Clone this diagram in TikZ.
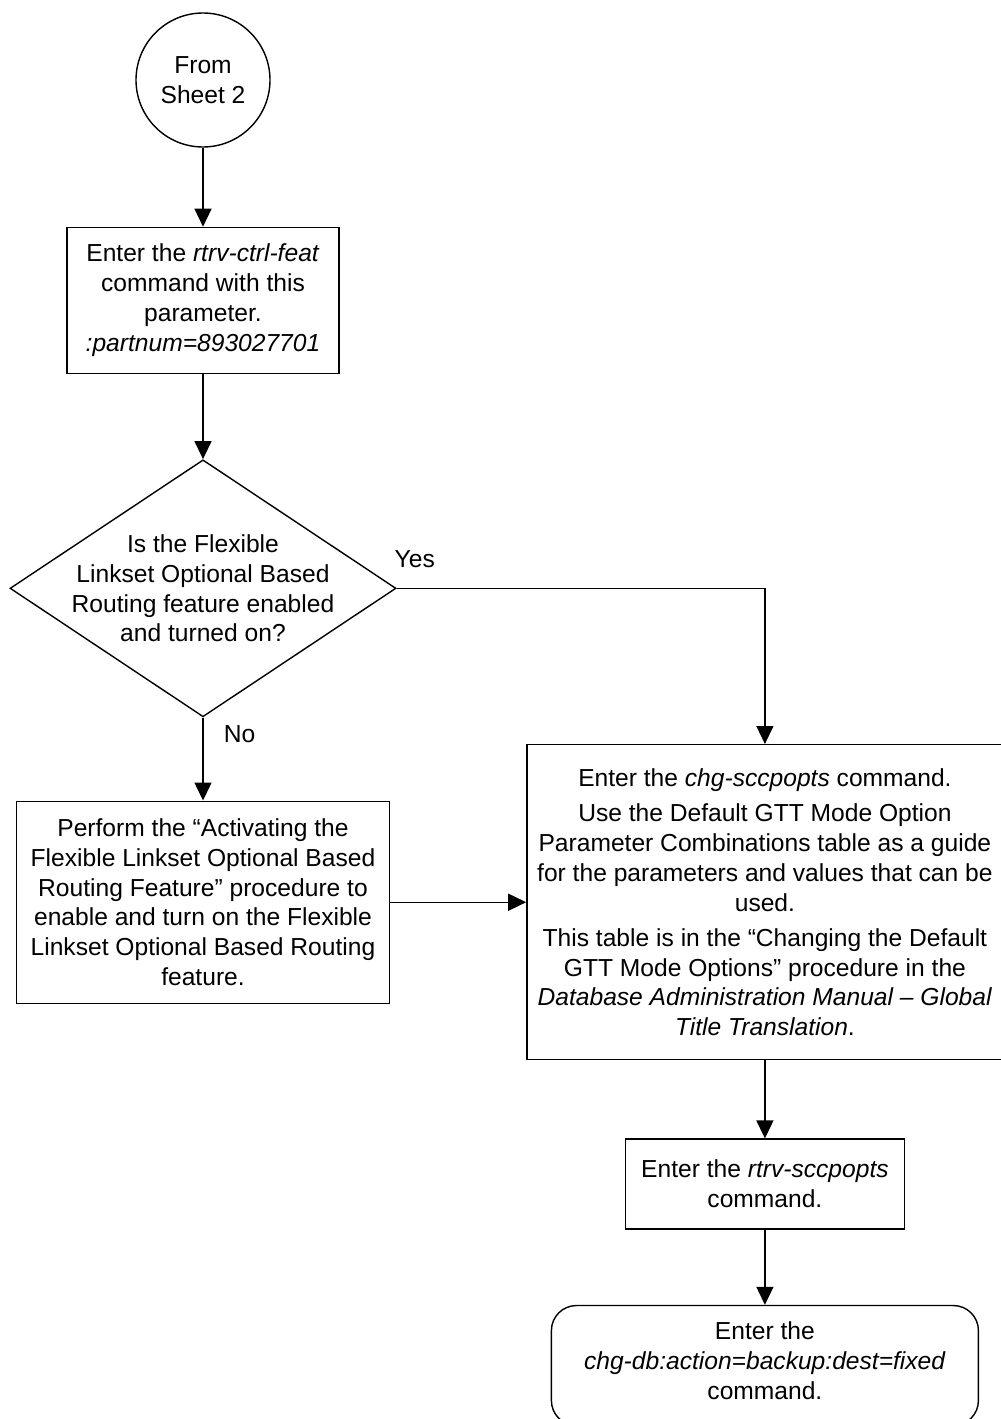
\documentclass[tikz,border=0pt]{standalone}
\usepackage{fontspec}
\setmainfont{Liberation Sans}
\usetikzlibrary{shapes.geometric, arrows.meta, positioning}

\begin{document}
\begin{tikzpicture}[
    node distance=1.6cm and 2.72cm,
    font=\fontsize{14}{17}\selectfont,
    >={Triangle[length=0.36cm, width=0.34cm]},
    % --- Styles ---
    connector/.style={
        circle, draw, line width=0.8pt, minimum size=2.68cm,
        inner sep=0pt, align=center
    },
    process/.style={
        rectangle, draw, line width=0.8pt, align=center, inner sep=2pt
    },
    decision/.style={
        diamond, draw, line width=0.8pt, minimum width=7.72cm,
        minimum height=5.14cm, inner sep=0pt
    },
    terminal/.style={
        rectangle, rounded corners=0.5cm, draw, line width=0.8pt,
        align=center, inner sep=2pt
    },
    qtext/.style={align=center, inner sep=0pt},
    arrow/.style={->, line width=0.8pt},
    branch/.style={inner sep=3pt}
]

    % ── PAGE ────────────────────────────────────────────────────────────
    \useasboundingbox (0,0) rectangle (20,-28.38);

    % ── NODES ───────────────────────────────────────────────────────────

    % Off-page connector
    \node (sheet2) [connector] at (4.06,-1.6) {From\\Sheet 2};

    % Retrieve the feature
    \node (rtrv_feat) [process, minimum width=5.44cm, minimum height=2.92cm,
                       below=1.58cm of sheet2]
        {Enter the \textit{rtrv-ctrl-feat}\\command with this\\parameter.\\\textit{:partnum=893027701}};

    % Feature check
    \node (feat_q) [decision, below=1.70cm of rtrv_feat] {};
    \node (feat_q_txt) [qtext] at (feat_q)
        {Is the Flexible\\Linkset Optional Based\\Routing feature enabled\\and turned on?};

    % Activate the feature
    \node (activate) [process, minimum width=7.46cm, minimum height=4.04cm,
                      below=1.66cm of feat_q]
        {Perform the “Activating the\\Flexible Linkset Optional Based\\Routing Feature” procedure to\\enable and turn on the Flexible\\Linkset Optional Based Routing\\feature.};

    % Change the options
    \node (chg_opts) [process, minimum width=9.52cm, minimum height=6.3cm,
                      right=2.72cm of activate]
        {Enter the \textit{chg-sccpopts} command.\\[3pt]
         Use the Default GTT Mode Option\\
         Parameter Combinations table as a guide\\
         for the parameters and values that can be\\
         used.\\[3pt]
         This table is in the “Changing the Default\\
         GTT Mode Options” procedure in the\\
         \textit{Database Administration Manual – Global}\\
         \textit{Title Translation}.};

    % Verify the options
    \node (rtrv_opts) [process, minimum width=5.58cm, minimum height=1.8cm,
                       below=1.56cm of chg_opts]
        {Enter the \textit{rtrv-sccpopts}\\command.};

    % Backup (runs off the page)
    \node (backup) [terminal, minimum width=8.54cm, minimum height=2.4cm,
                    text depth=0.2cm, below=1.5cm of rtrv_opts]
        {Enter the\\\textit{chg-db:action=backup:dest=fixed}\\command.};

    % ── ARROWS ──────────────────────────────────────────────────────────

    \draw [arrow] (sheet2)    -- (rtrv_feat);
    \draw [arrow] (rtrv_feat) -- (feat_q);
    \draw [arrow] (feat_q)    -- node[branch, right, pos=0.2, xshift=0.3cm] {No} (activate);
    \draw [arrow] (feat_q.east) -| node[branch, anchor=south west, pos=0, xshift=-0.16cm, yshift=0.3cm] {Yes} (chg_opts.north);
    \draw [arrow] (activate)  -- (chg_opts);
    \draw [arrow] (chg_opts)  -- (rtrv_opts);
    \draw [arrow] (rtrv_opts) -- (backup);

\end{tikzpicture}
\end{document}
